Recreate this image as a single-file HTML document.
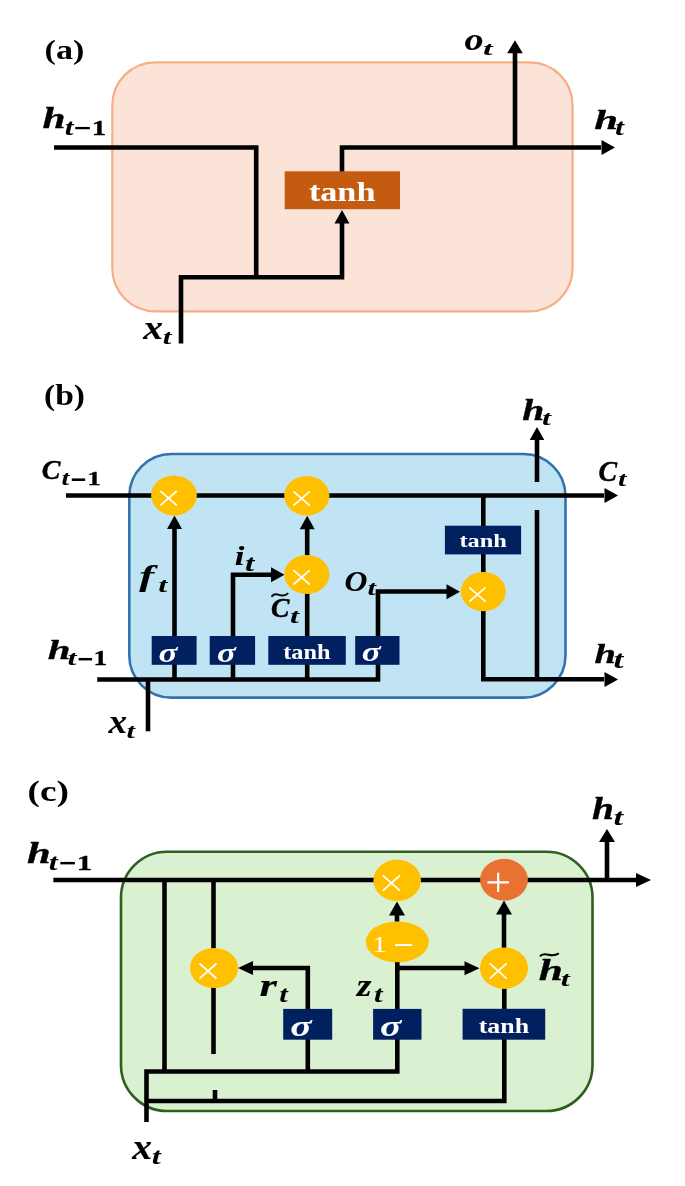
<!DOCTYPE html>
<html><head><meta charset="utf-8">
<style>
html,body{margin:0;padding:0;background:#fff;overflow:hidden;}
svg{display:block;will-change:transform;}
text{font-family:"Liberation Serif",serif;}
</style></head>
<body>
<svg width="685" height="1186" viewBox="0 0 685 1186">
<text x="0" y="0" font-size="27.582" font-weight="bold" font-style="normal" fill="#000" transform="translate(44.57,59.07) scale(1.2354,1)">(a)</text>
<rect x="112.3" y="62.3" width="460.30" height="249.00" rx="43" ry="43" fill="#FBE3D7" stroke="#F7AE85" stroke-width="2.2"/>
<path d="M54 147.5 H256.2 V277.3" stroke="#000" stroke-width="4.6" fill="none" stroke-linejoin="miter" stroke-linecap="butt"/>
<path d="M181 343.5 V277.3 H342 V222" stroke="#000" stroke-width="4.6" fill="none" stroke-linejoin="miter" stroke-linecap="butt"/>
<polygon points="342.00,210.00 334.50,223.50 349.50,223.50" fill="#000"/>
<rect x="284.7" y="171.3" width="115.30" height="37.90" fill="#C55A11"/>
<path d="M342 171.5 V147.5 H601" stroke="#000" stroke-width="4.6" fill="none" stroke-linejoin="miter" stroke-linecap="butt"/>
<polygon points="615.00,147.50 601.50,140.00 601.50,155.00" fill="#000"/>
<path d="M515 147.5 V52" stroke="#000" stroke-width="4.6" fill="none" stroke-linejoin="miter" stroke-linecap="butt"/>
<polygon points="515.00,40.20 507.20,53.20 522.80,53.20" fill="#000"/>
<text x="0" y="0" font-size="26.950" font-weight="bold" font-style="normal" fill="#fff" transform="translate(308.89,200.83) scale(1.2691,1)">tanh</text>
<text x="0" y="0" font-size="28.561" font-weight="bold" font-style="italic" fill="#000" stroke="#000" stroke-width="0.35" stroke-linejoin="round" transform="translate(42.55,128.42) scale(1.4474,1)">h</text>
<text x="0" y="0" font-size="22.957" font-weight="bold" font-style="italic" fill="#000" transform="translate(64.66,134.57) scale(1.3714,1)">t</text>
<text x="0" y="0" font-size="32.857" font-weight="bold" font-style="italic" fill="#000" transform="translate(72.79,138.89) scale(0.9556,1)">−</text>
<text x="0" y="0" font-size="20.455" font-weight="bold" font-style="normal" fill="#000" stroke="#000" stroke-width="0.30" stroke-linejoin="round" transform="translate(91.84,134.65) scale(1.4138,1)">1</text>
<text x="0" y="0" font-size="30.625" font-weight="bold" font-style="italic" fill="#000" stroke="#000" stroke-width="0.10" stroke-linejoin="round" transform="translate(464.38,49.74) scale(1.2408,1)">o</text>
<text x="0" y="0" font-size="19.652" font-weight="bold" font-style="italic" fill="#000" transform="translate(482.97,55.40) scale(1.7527,1)">t</text>
<text x="0" y="0" font-size="28.129" font-weight="bold" font-style="italic" fill="#000" stroke="#000" stroke-width="0.35" stroke-linejoin="round" transform="translate(594.22,128.82) scale(1.5209,1)">h</text>
<text x="0" y="0" font-size="22.261" font-weight="bold" font-style="italic" fill="#000" transform="translate(615.03,134.78) scale(1.4475,1)">t</text>
<text x="0" y="0" font-size="34.130" font-weight="bold" font-style="italic" fill="#000" stroke="#000" stroke-width="0.10" stroke-linejoin="round" transform="translate(143.25,338.85) scale(1.1599,1)">x</text>
<text x="0" y="0" font-size="21.217" font-weight="bold" font-style="italic" fill="#000" transform="translate(162.67,343.89) scale(1.4663,1)">t</text>
<text x="0" y="0" font-size="28.462" font-weight="bold" font-style="normal" fill="#000" transform="translate(43.99,405.08) scale(1.1763,1)">(b)</text>
<rect x="129.3" y="454" width="436.20" height="243.60" rx="42" ry="42" fill="#C1E4F5" stroke="#3472AE" stroke-width="2.6"/>
<path d="M66 495.5 H604" stroke="#000" stroke-width="4.6" fill="none" stroke-linejoin="miter" stroke-linecap="butt"/>
<polygon points="618.00,495.50 604.50,488.00 604.50,503.00" fill="#000"/>
<path d="M174.5 679.5 V527" stroke="#000" stroke-width="4.6" fill="none" stroke-linejoin="miter" stroke-linecap="butt"/>
<polygon points="174.50,515.50 167.00,529.00 182.00,529.00" fill="#000"/>
<ellipse cx="174" cy="495.4" rx="22.9" ry="20" fill="#FFC000"/>
<path d="M160.40 491.00 L176.80 505.40 M176.80 491.00 L160.40 505.40" stroke="#fff" stroke-width="1.7" fill="none"/>
<path d="M233 679.5 V574.8 H271" stroke="#000" stroke-width="4.6" fill="none" stroke-linejoin="miter" stroke-linecap="butt"/>
<polygon points="284.50,574.80 271.00,567.30 271.00,582.30" fill="#000"/>
<path d="M307.2 679.5 V527" stroke="#000" stroke-width="4.6" fill="none" stroke-linejoin="miter" stroke-linecap="butt"/>
<polygon points="307.20,515.80 299.70,529.30 314.70,529.30" fill="#000"/>
<ellipse cx="306.8" cy="495.7" rx="22.6" ry="19.8" fill="#FFC000"/>
<path d="M293.40 491.30 L309.80 505.70 M309.80 491.30 L293.40 505.70" stroke="#fff" stroke-width="1.7" fill="none"/>
<ellipse cx="306.8" cy="574.5" rx="22.6" ry="19.5" fill="#FFC000"/>
<path d="M293.40 570.10 L309.80 584.50 M309.80 570.10 L293.40 584.50" stroke="#fff" stroke-width="1.7" fill="none"/>
<path d="M97.2 679.5 H378 V591.5 H447" stroke="#000" stroke-width="4.6" fill="none" stroke-linejoin="miter" stroke-linecap="butt"/>
<polygon points="460.00,591.80 446.50,584.30 446.50,599.30" fill="#000"/>
<path d="M148 679.5 V731.3" stroke="#000" stroke-width="4.6" fill="none" stroke-linejoin="miter" stroke-linecap="butt"/>
<path d="M483.3 495.5 V679.3 H604" stroke="#000" stroke-width="4.6" fill="none" stroke-linejoin="miter" stroke-linecap="butt"/>
<polygon points="618.00,679.50 604.50,672.00 604.50,687.00" fill="#000"/>
<ellipse cx="483.3" cy="591.6" rx="22.5" ry="19.6" fill="#FFC000"/>
<path d="M469.20 587.30 L485.60 601.70 M485.60 587.30 L469.20 601.70" stroke="#fff" stroke-width="1.7" fill="none"/>
<rect x="444.9" y="525.7" width="76.20" height="28.70" fill="#002060"/>
<text x="0" y="0" font-size="19.007" font-weight="bold" font-style="normal" fill="#fff" transform="translate(459.43,547.21) scale(1.2830,1)">tanh</text>
<path d="M537 679.5 V510" stroke="#000" stroke-width="4.6" fill="none" stroke-linejoin="miter" stroke-linecap="butt"/>
<path d="M537 482 V439" stroke="#000" stroke-width="4.6" fill="none" stroke-linejoin="miter" stroke-linecap="butt"/>
<polygon points="537.00,427.10 529.70,440.10 544.30,440.10" fill="#000"/>
<rect x="151.7" y="636" width="44.90" height="28.80" fill="#002060"/>
<rect x="209.7" y="636" width="45.40" height="28.80" fill="#002060"/>
<rect x="268.3" y="636" width="77.50" height="28.80" fill="#002060"/>
<rect x="355.2" y="636" width="44.30" height="28.80" fill="#002060"/>
<text x="0" y="0" font-size="27.850" font-weight="bold" font-style="italic" fill="#fff" transform="translate(158.55,661.52) scale(1.2601,1)">σ</text>
<text x="0" y="0" font-size="27.850" font-weight="bold" font-style="italic" fill="#fff" transform="translate(216.96,661.52) scale(1.2465,1)">σ</text>
<text x="0" y="0" font-size="20.709" font-weight="bold" font-style="normal" fill="#fff" transform="translate(283.24,658.69) scale(1.1725,1)">tanh</text>
<text x="0" y="0" font-size="26.542" font-weight="bold" font-style="italic" fill="#fff" transform="translate(361.85,660.83) scale(1.3222,1)">σ</text>
<text x="0" y="0" font-size="26.343" font-weight="bold" font-style="italic" fill="#000" stroke="#000" stroke-width="0.45" stroke-linejoin="round" transform="translate(41.85,478.71) scale(1.0587,1)">C</text>
<text x="0" y="0" font-size="21.217" font-weight="bold" font-style="italic" fill="#000" transform="translate(61.56,484.79) scale(1.3267,1)">t</text>
<text x="0" y="0" font-size="37.143" font-weight="bold" font-style="italic" fill="#000" transform="translate(69.49,491.56) scale(0.7758,1)">−</text>
<text x="0" y="0" font-size="19.545" font-weight="bold" font-style="normal" fill="#000" stroke="#000" stroke-width="0.30" stroke-linejoin="round" transform="translate(87.24,485.25) scale(1.4104,1)">1</text>
<text x="0" y="0" font-size="29.328" font-weight="bold" font-style="italic" fill="#000" stroke="#000" stroke-width="0.45" stroke-linejoin="round" transform="translate(598.45,481.28) scale(0.9510,1)">C</text>
<text x="0" y="0" font-size="21.217" font-weight="bold" font-style="italic" fill="#000" transform="translate(618.00,485.99) scale(1.4139,1)">t</text>
<text x="0" y="0" font-size="28.561" font-weight="bold" font-style="italic" fill="#000" stroke="#000" stroke-width="0.35" stroke-linejoin="round" transform="translate(522.18,419.62) scale(1.3897,1)">h</text>
<text x="0" y="0" font-size="20.174" font-weight="bold" font-style="italic" fill="#000" transform="translate(542.03,424.80) scale(1.5972,1)">t</text>
<text x="0" y="0" font-size="28.273" font-weight="bold" font-style="italic" fill="#000" stroke="#000" stroke-width="0.35" stroke-linejoin="round" transform="translate(594.41,662.83) scale(1.3601,1)">h</text>
<text x="0" y="0" font-size="26.087" font-weight="bold" font-style="italic" fill="#000" transform="translate(613.44,667.74) scale(1.3488,1)">t</text>
<text x="0" y="0" font-size="28.129" font-weight="bold" font-style="italic" fill="#000" stroke="#000" stroke-width="0.35" stroke-linejoin="round" transform="translate(47.76,658.83) scale(1.4550,1)">h</text>
<text x="0" y="0" font-size="21.217" font-weight="bold" font-style="italic" fill="#000" transform="translate(67.62,664.79) scale(1.5361,1)">t</text>
<text x="0" y="0" font-size="35.714" font-weight="bold" font-style="italic" fill="#000" transform="translate(76.18,670.54) scale(0.8129,1)">−</text>
<text x="0" y="0" font-size="20.455" font-weight="bold" font-style="normal" fill="#000" stroke="#000" stroke-width="0.30" stroke-linejoin="round" transform="translate(93.44,665.25) scale(1.3477,1)">1</text>
<text x="0" y="0" font-size="32.826" font-weight="bold" font-style="italic" fill="#000" stroke="#000" stroke-width="0.10" stroke-linejoin="round" transform="translate(108.62,732.65) scale(1.1306,1)">x</text>
<text x="0" y="0" font-size="20.348" font-weight="bold" font-style="italic" fill="#000" transform="translate(126.49,737.80) scale(1.4926,1)">t</text>
<text x="0" y="0" font-size="28.478" font-weight="bold" font-style="italic" fill="#000" stroke="#000" stroke-width="0.10" stroke-linejoin="round" transform="translate(139.35,586.43) scale(1.5738,1)">f</text>
<text x="0" y="0" font-size="20.348" font-weight="bold" font-style="italic" fill="#000" transform="translate(158.22,591.80) scale(1.6018,1)">t</text>
<text x="0" y="0" font-size="28.345" font-weight="bold" font-style="italic" fill="#000" stroke="#000" stroke-width="0.10" stroke-linejoin="round" transform="translate(234.68,565.05) scale(1.2277,1)">i</text>
<text x="0" y="0" font-size="23.478" font-weight="bold" font-style="italic" fill="#000" transform="translate(244.99,570.77) scale(1.4355,1)">t</text>
<path d="M272.10 596.20 C276.35 590.48 281.60 599.32 287.60 593.60" stroke="#000" stroke-width="2.0" fill="none" stroke-linecap="round"/>
<text x="0" y="0" font-size="26.343" font-weight="bold" font-style="italic" fill="#000" stroke="#000" stroke-width="0.45" stroke-linejoin="round" transform="translate(270.96,617.21) scale(1.0469,1)">C</text>
<text x="0" y="0" font-size="21.391" font-weight="bold" font-style="italic" fill="#000" transform="translate(290.03,623.29) scale(1.5063,1)">t</text>
<text x="0" y="0" font-size="29.552" font-weight="bold" font-style="italic" fill="#000" stroke="#000" stroke-width="0.10" stroke-linejoin="round" transform="translate(344.44,590.65) scale(1.0715,1)">O</text>
<text x="0" y="0" font-size="20.174" font-weight="bold" font-style="italic" fill="#000" transform="translate(367.39,595.40) scale(1.5054,1)">t</text>
<text x="0" y="0" font-size="29.890" font-weight="bold" font-style="normal" fill="#000" transform="translate(27.62,801.07) scale(1.2464,1)">(c)</text>
<rect x="121" y="851.7" width="471.50" height="259.30" rx="46" ry="46" fill="#D9F1D0" stroke="#2D5F1F" stroke-width="2.6"/>
<path d="M53.3 880 H636" stroke="#000" stroke-width="4.6" fill="none" stroke-linejoin="miter" stroke-linecap="butt"/>
<polygon points="651.00,880.00 636.00,873.00 636.00,887.00" fill="#000"/>
<path d="M607 880 V841" stroke="#000" stroke-width="4.6" fill="none" stroke-linejoin="miter" stroke-linecap="butt"/>
<polygon points="607.00,829.00 599.00,842.00 615.00,842.00" fill="#000"/>
<path d="M164.5 880 V1071.5" stroke="#000" stroke-width="4.6" fill="none" stroke-linejoin="miter" stroke-linecap="butt"/>
<path d="M213.5 880 V1054" stroke="#000" stroke-width="4.6" fill="none" stroke-linejoin="miter" stroke-linecap="butt"/>
<ellipse cx="214" cy="968" rx="24" ry="20" fill="#FFC000"/>
<path d="M199.50 963.50 L216.50 978.50 M216.50 963.50 L199.50 978.50" stroke="#fff" stroke-width="1.7" fill="none"/>
<path d="M307.8 1071.5 V968 H253" stroke="#000" stroke-width="4.6" fill="none" stroke-linejoin="miter" stroke-linecap="butt"/>
<polygon points="238.00,968.00 253.00,961.00 253.00,975.00" fill="#000"/>
<rect x="283.2" y="1008.9" width="49.00" height="30.80" fill="#002060"/>
<path d="M146.5 1122 V1071.5 H397.3 V962" stroke="#000" stroke-width="4.6" fill="none" stroke-linejoin="miter" stroke-linecap="butt"/>
<path d="M397.3 968 H466" stroke="#000" stroke-width="4.6" fill="none" stroke-linejoin="miter" stroke-linecap="butt"/>
<polygon points="479.50,968.20 464.50,961.20 464.50,975.20" fill="#000"/>
<rect x="373.1" y="1008.9" width="48.40" height="30.80" fill="#002060"/>
<ellipse cx="397.3" cy="941.8" rx="31.5" ry="20.4" fill="#FFC000"/>
<text x="0" y="0" font-size="22.879" font-weight="normal" font-style="normal" fill="#fff" transform="translate(372.00,951.60) scale(1.3113,1)">1</text>
<rect x="395.1" y="944" width="17.1" height="2" fill="#fff"/>
<path d="M397 921.5 V914" stroke="#000" stroke-width="4.6" fill="none" stroke-linejoin="miter" stroke-linecap="butt"/>
<polygon points="397.00,901.60 389.00,915.60 405.00,915.60" fill="#000"/>
<ellipse cx="397.2" cy="880.3" rx="23.8" ry="20.7" fill="#FFC000"/>
<path d="M382.90 875.50 L399.90 890.70 M399.90 875.50 L382.90 890.70" stroke="#fff" stroke-width="1.7" fill="none"/>
<path d="M146.5 1101 H504.3 V988" stroke="#000" stroke-width="4.6" fill="none" stroke-linejoin="miter" stroke-linecap="butt"/>
<path d="M215 1090 V1101" stroke="#000" stroke-width="4.6" fill="none" stroke-linejoin="miter" stroke-linecap="butt"/>
<rect x="462.6" y="1008.8" width="82.60" height="30.90" fill="#002060"/>
<path d="M504 948 V914" stroke="#000" stroke-width="4.6" fill="none" stroke-linejoin="miter" stroke-linecap="butt"/>
<polygon points="504.00,900.60 496.00,914.60 512.00,914.60" fill="#000"/>
<ellipse cx="504" cy="968.2" rx="24" ry="20.7" fill="#FFC000"/>
<path d="M489.70 963.40 L506.70 978.60 M506.70 963.40 L489.70 978.60" stroke="#fff" stroke-width="1.7" fill="none"/>
<ellipse cx="504" cy="879.7" rx="23.9" ry="20.9" fill="#E97132"/>
<path d="M487.40 882.40 H509.00 M498.20 872.80 V892.00" stroke="#fff" stroke-width="2.2" fill="none"/>
<text x="0" y="0" font-size="29.159" font-weight="bold" font-style="italic" fill="#fff" transform="translate(290.21,1035.91) scale(1.3589,1)">σ</text>
<text x="0" y="0" font-size="29.159" font-weight="bold" font-style="italic" fill="#fff" transform="translate(380.11,1035.91) scale(1.3589,1)">σ</text>
<text x="0" y="0" font-size="21.702" font-weight="bold" font-style="normal" fill="#fff" transform="translate(478.71,1032.58) scale(1.1935,1)">tanh</text>
<text x="0" y="0" font-size="28.561" font-weight="bold" font-style="italic" fill="#000" stroke="#000" stroke-width="0.35" stroke-linejoin="round" transform="translate(26.92,863.43) scale(1.4907,1)">h</text>
<text x="0" y="0" font-size="22.957" font-weight="bold" font-style="italic" fill="#000" transform="translate(48.83,869.57) scale(1.4036,1)">t</text>
<text x="0" y="0" font-size="35.714" font-weight="bold" font-style="italic" fill="#000" transform="translate(57.79,875.04) scale(0.8791,1)">−</text>
<text x="0" y="0" font-size="21.667" font-weight="bold" font-style="normal" fill="#000" stroke="#000" stroke-width="0.30" stroke-linejoin="round" transform="translate(76.69,870.45) scale(1.4220,1)">1</text>
<text x="0" y="0" font-size="31.007" font-weight="bold" font-style="italic" fill="#000" stroke="#000" stroke-width="0.35" stroke-linejoin="round" transform="translate(591.99,819.33) scale(1.2734,1)">h</text>
<text x="0" y="0" font-size="22.435" font-weight="bold" font-style="italic" fill="#000" transform="translate(613.47,825.08) scale(1.5353,1)">t</text>
<text x="0" y="0" font-size="35.870" font-weight="bold" font-style="italic" fill="#000" stroke="#000" stroke-width="0.10" stroke-linejoin="round" transform="translate(132.15,1158.85) scale(1.1037,1)">x</text>
<text x="0" y="0" font-size="23.304" font-weight="bold" font-style="italic" fill="#000" transform="translate(151.72,1164.47) scale(1.3986,1)">t</text>
<text x="0" y="0" font-size="32.340" font-weight="bold" font-style="italic" fill="#000" stroke="#000" stroke-width="0.10" stroke-linejoin="round" transform="translate(259.45,996.25) scale(1.3853,1)">r</text>
<text x="0" y="0" font-size="22.087" font-weight="bold" font-style="italic" fill="#000" transform="translate(279.28,1002.18) scale(1.3918,1)">t</text>
<text x="0" y="0" font-size="31.087" font-weight="bold" font-style="italic" fill="#000" stroke="#000" stroke-width="0.10" stroke-linejoin="round" transform="translate(356.68,995.75) scale(1.2170,1)">z</text>
<text x="0" y="0" font-size="22.087" font-weight="bold" font-style="italic" fill="#000" transform="translate(373.88,1001.78) scale(1.3918,1)">t</text>
<path d="M540.50 955.80 C545.41 951.18 551.32 958.32 558.20 953.70" stroke="#000" stroke-width="2.0" fill="none" stroke-linecap="round"/>
<text x="0" y="0" font-size="30.432" font-weight="bold" font-style="italic" fill="#000" stroke="#000" stroke-width="0.35" stroke-linejoin="round" transform="translate(538.81,980.33) scale(1.4262,1)">h</text>
<text x="0" y="0" font-size="21.391" font-weight="bold" font-style="italic" fill="#000" transform="translate(560.83,985.99) scale(1.5063,1)">t</text>
</svg>
</body></html>
